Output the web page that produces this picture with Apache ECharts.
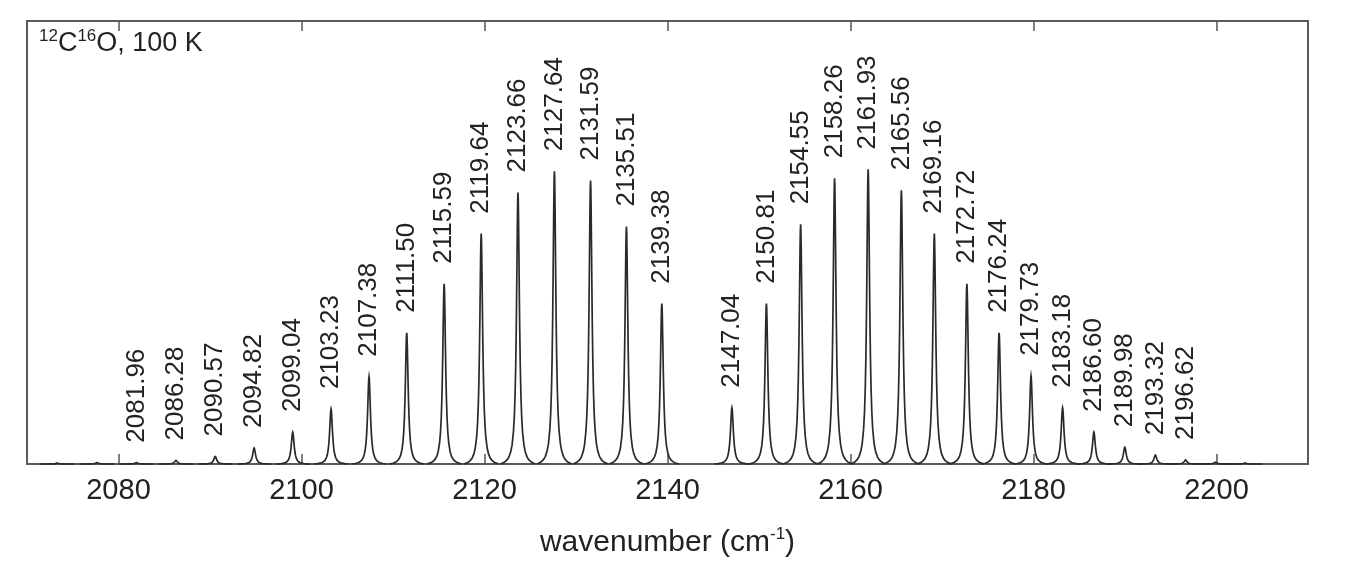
<!DOCTYPE html>
<html><head><meta charset="utf-8">
<script src="https://cdn.jsdelivr.net/npm/echarts@6/dist/echarts.min.js"></script>
<style>html,body{margin:0;padding:0;background:#fff}#c{width:1370px;height:584px}</style>
</head><body><div id="c"></div>
<script>
// Labelled rovibrational lines (cm^-1) and their relative peak heights
const LINE_POS = [2081.96, 2086.28, 2090.57, 2094.82, 2099.04, 2103.23, 2107.38, 2111.50, 2115.59, 2119.64,
                  2123.66, 2127.64, 2131.59, 2135.51, 2139.38,
                  2147.04, 2150.81, 2154.55, 2158.26, 2161.93, 2165.56, 2169.16, 2172.72, 2176.24, 2179.73,
                  2183.18, 2186.60, 2189.98, 2193.32, 2196.62];
const LINE_INT = [0.003, 0.008, 0.017, 0.036, 0.072, 0.124, 0.197, 0.296, 0.407, 0.520,
                  0.613, 0.661, 0.640, 0.536, 0.362,
                  0.127, 0.362, 0.541, 0.645, 0.665, 0.618, 0.520, 0.407, 0.296, 0.199,
                  0.127, 0.072, 0.038, 0.020, 0.009];
// Very weak unlabelled lines at the edges of the band
const WEAK_POS = [2073.30, 2077.65, 2199.89, 2203.13];
const WEAK_INT = [0.002, 0.003, 0.004, 0.002];
const X_TICKS = [2080, 2100, 2120, 2140, 2160, 2180, 2200];
const X_MIN = 2070, X_MAX = 2210;

const FONT = '"Liberation Sans", Arial, Helvetica, sans-serif';
const INK = '#2a2a2a';

// line-shape rendering (style of the mark)
const GAMMA = 0.19, HALF = 1.9;
const OFFS_HALF = [1.9, 1.5, 1.2, 1.0, 0.8, 0.65, 0.5, 0.4, 0.32, 0.25, 0.19, 0.14, 0.1, 0.06, 0.03];
const OFFS = OFFS_HALF.map(d => -d).concat([0], OFFS_HALF.slice().reverse());
function prof(d) { return 1 / (1 + (d / GAMMA) * (d / GAMMA)); }
const EDGE = prof(HALF);

function makeRender(withLabel) {
  return function (params, api) {
    const x0 = api.value(0), h = api.value(1);
    const pts = OFFS.map(d => api.coord([x0 + d, h * (prof(d) - EDGE) / (1 - EDGE)]));
    const top = api.coord([x0, h]);
    const children = [{
      type: 'polyline', shape: { points: pts },
      style: { stroke: INK, lineWidth: 1.7, fill: null }
    }];
    if (withLabel) {
      children.push({
        type: 'text', x: top[0], y: top[1] - 20, rotation: Math.PI / 2,
        style: { text: x0.toFixed(2), fontSize: 26, fontFamily: FONT, fill: '#222', align: 'left', verticalAlign: 'middle' }
      });
    }
    return { type: 'group', children: children };
  };
}

const chart = echarts.init(document.getElementById('c'), null, { renderer: 'canvas' });
chart.setOption({
  animation: false,
  backgroundColor: '#fff',
  grid: { left: 27, right: 62, top: 21, bottom: 120, show: true, borderColor: '#5a5a5a', borderWidth: 2, backgroundColor: 'transparent' },
  title: {
    text: '{s|12}{m|C}{s|16}{m|O, 100 K}',
    left: 34, top: 23,
    textStyle: {
      fontWeight: 'normal',
      rich: {
        s: { fontSize: 17, fontFamily: FONT, fontWeight: 'normal', color: '#222', verticalAlign: 'top', lineHeight: 29 },
        m: { fontSize: 27, fontFamily: FONT, fontWeight: 'normal', color: '#222', verticalAlign: 'bottom', lineHeight: 29 }
      }
    }
  },
  xAxis: [{
    type: 'value', min: X_MIN, max: X_MAX, position: 'bottom',
    axisLine: { show: false }, splitLine: { show: false },
    axisTick: { show: true, inside: true, length: 10, customValues: X_TICKS, lineStyle: { color: '#555', width: 1.5 } },
    axisLabel: { customValues: X_TICKS, margin: 12, fontSize: 29, color: '#222', fontFamily: FONT, formatter: v => String(v) },
    name: '{a|wavenumber (cm}{s|-1}{a|)}', nameLocation: 'middle', nameGap: 62,
    nameTextStyle: {
      rich: {
        a: { fontSize: 30, fontFamily: FONT, color: '#222', verticalAlign: 'bottom', lineHeight: 32 },
        s: { fontSize: 17, fontFamily: FONT, color: '#222', verticalAlign: 'top', lineHeight: 32 }
      }
    }
  }, {
    type: 'value', min: X_MIN, max: X_MAX, position: 'top',
    axisLine: { show: false }, splitLine: { show: false },
    axisTick: { show: true, inside: true, length: 10, customValues: X_TICKS, lineStyle: { color: '#555', width: 1.5 } },
    axisLabel: { show: false }
  }],
  yAxis: { type: 'value', min: 0, max: 1, show: false },
  series: [{
    type: 'custom', xAxisIndex: 0, renderItem: makeRender(true),
    data: LINE_POS.map((p, i) => [p, LINE_INT[i]]), z: 3
  }, {
    type: 'custom', xAxisIndex: 0, renderItem: makeRender(false),
    data: WEAK_POS.map((p, i) => [p, WEAK_INT[i]]), z: 3
  }]
});
</script></body></html>
